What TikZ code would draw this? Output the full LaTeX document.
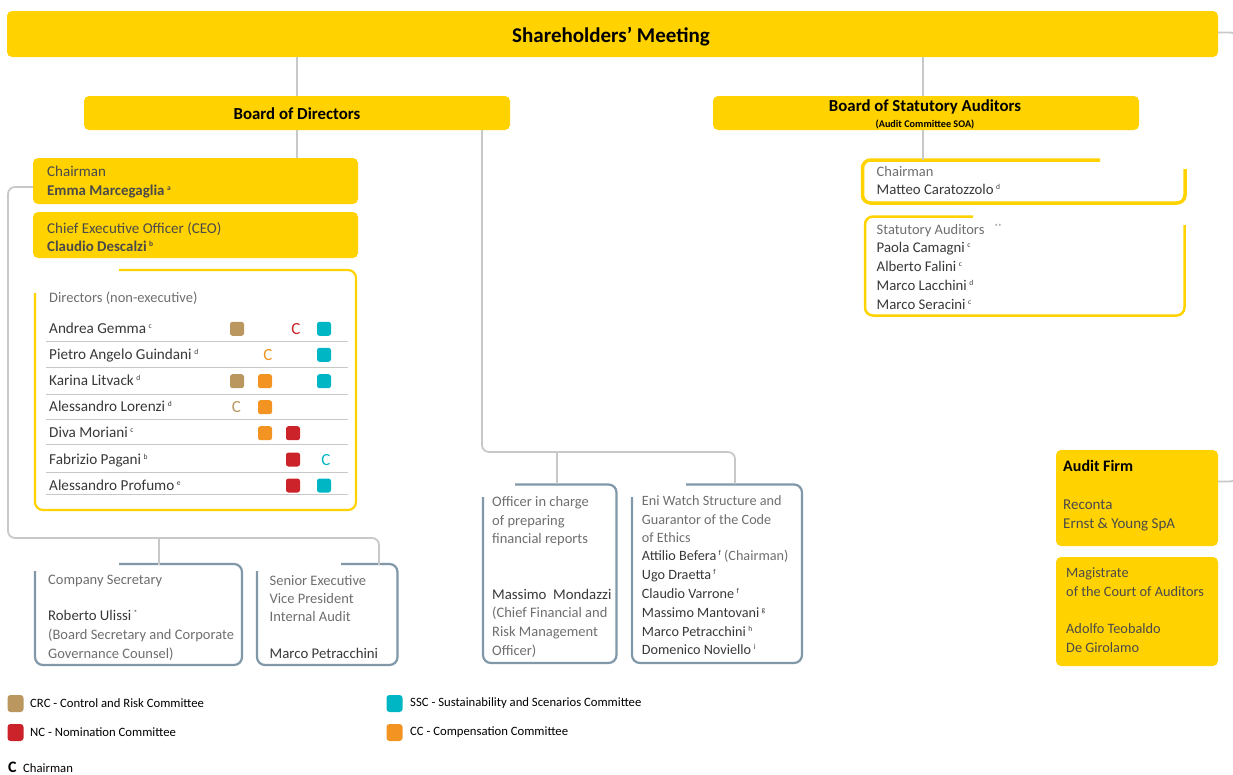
\documentclass[tikz,border=0pt]{standalone}
\usepackage{fontspec}
\setmainfont{Carlito}
\definecolor{eniY}{HTML}{FFD200}
\definecolor{connG}{HTML}{C8C8C8}
\definecolor{steelB}{HTML}{8098A8}
\definecolor{txtD}{HTML}{383838}
\definecolor{txtY}{HTML}{4A4A4A}
\definecolor{txtL}{HTML}{6E6E6E}
\definecolor{crcC}{HTML}{B9975F}
\definecolor{ccC}{HTML}{F39322}
\definecolor{ncC}{HTML}{CC2229}
\definecolor{sscC}{HTML}{00B6C5}
\newcommand{\supl}[1]{\,{\fontsize{7.5}{8}\selectfont\raisebox{5pt}{#1}}}
\begin{document}
\begin{tikzpicture}[x=1pt,y=-1pt,
 ybox/.style={fill=eniY, rounded corners=5pt, inner sep=0pt},
 conn/.style={draw=connG, line width=1.8pt, rounded corners=7pt},
 yout/.style={draw=eniY, line width=2.2pt, rounded corners=8pt},
 bout/.style={draw=steelB, line width=2.2pt, rounded corners=8pt},
 lbl/.style={anchor=base west, inner sep=0pt, text=txtL, font=\fontsize{14.5}{16}\selectfont},
 nm/.style={anchor=base west, inner sep=0pt, text=txtD, font=\fontsize{14.8}{16}\selectfont},
 dnm/.style={anchor=base west, inner sep=0pt, text=txtD, font=\fontsize{15.2}{16}\selectfont},
 ew/.style={anchor=base west, inner sep=0pt, text=#1, font=\fontsize{14.2}{16}\selectfont},
 nmb/.style={anchor=base west, inner sep=0pt, text=txtY, font=\fontsize{14.9}{16}\selectfont\bfseries},
 ylbl/.style={anchor=base west, inner sep=0pt, text=txtY, font=\fontsize{15}{16}\selectfont},
 sq/.style={fill=#1, rounded corners=2.5pt, minimum size=14pt, inner sep=0pt},
 lsq/.style={fill=#1, rounded corners=3pt, minimum width=16pt, minimum height=17pt, inner sep=0pt},
 cm/.style={text=#1, inner sep=0pt, font=\fontsize{17}{17}\selectfont},
 sepl/.style={draw=connG, line width=0.9pt},
 leg/.style={anchor=west, inner sep=0pt, text=black, font=\fontsize{12.7}{14}\selectfont},
 ttl/.style={text=black, font=\fontsize{16.8}{18}\selectfont\bfseries}
]
\useasboundingbox (0,0) rectangle (1233,774);

% ---------- top boxes
\node[ybox, minimum width=1211pt, minimum height=46pt] (sm) at (612.5,34) {};
\node[inner sep=0pt, text=black, font=\fontsize{21}{23}\selectfont\bfseries] (smt) at (611,36.5) {Shareholders' Meeting};
\node[ybox, minimum width=426pt, minimum height=34pt] (bod) at (297,113) {};
\node[ttl] (bodt) at (297,113.5) {Board of Directors};
\node[ybox, minimum width=426pt, minimum height=34pt] (bsa) at (926,113) {};
\node[ttl, inner sep=0pt] (bsat) at (925,107) {Board of Statutory Auditors};
\node[text=black, inner sep=0pt, font=\fontsize{10.2}{11}\selectfont\bfseries] (bsas) at (925,124) {(Audit Committee SOA)};

% ---------- chairman / CEO
\node[ybox, minimum width=325pt, minimum height=46pt] (chair) at (195.5,181) {};
\node[ylbl] (chairL) at (47,176.5) {Chairman};
\node[nmb] (chairN) at (47,195.7) {Emma Marcegaglia\supl{a}};
\node[ybox, minimum width=325pt, minimum height=46pt] (ceo) at (195.5,235) {};
\node[ylbl] (ceoL) at (47,233.3) {Chief Executive Officer (CEO)};
\node[nmb] (ceoN) at (47,251.7) {Claudio Descalzi\supl{b}};

% ---------- directors
\draw[yout] (119,270) -| (356,510) -| (35,293);
\node[lbl] (dirL) at (49,302.3) {Directors (non-executive)};
\foreach \yy in {341,367.7,394,419.3,444,472.3,494.3}
  \draw[sepl] (46,\yy) -- (348,\yy);
\node[dnm] (d1) at (49,333.3) {Andrea Gemma\supl{c}};
\node[dnm] (d2) at (49,359.3) {Pietro Angelo Guindani\supl{d}};
\node[dnm] (d3) at (49,385.7) {Karina Litvack\supl{d}};
\node[dnm] (d4) at (49,411.7) {Alessandro Lorenzi\supl{d}};
\node[dnm] (d5) at (49,437.7) {Diva Moriani\supl{c}};
\node[dnm] (d6) at (49,464) {Fabrizio Pagani\supl{b}};
\node[dnm] (d7) at (49,490) {Alessandro Profumo\supl{e}};
% row 1
\node[sq=crcC] (m11) at (237,328.8) {};
\node[cm=ncC] (m12) at (296,329) {C};
\node[sq=sscC] (m13) at (324,328.8) {};
% row 2
\node[cm=ccC] (m21) at (268,355) {C};
\node[sq=sscC] (m22) at (324,354.8) {};
% row 3
\node[sq=crcC] (m31) at (237,381.2) {};
\node[sq=ccC] (m32) at (265,381.2) {};
\node[sq=sscC] (m33) at (324,381.2) {};
% row 4
\node[cm=crcC] (m41) at (236.5,407.4) {C};
\node[sq=ccC] (m42) at (265,407.2) {};
% row 5
\node[sq=ccC] (m51) at (265,433.2) {};
\node[sq=ncC] (m52) at (293,433.2) {};
% row 6
\node[sq=ncC] (m61) at (293,459.5) {};
\node[cm=sscC] (m62) at (326,459.7) {C};
% row 7
\node[sq=ncC] (m71) at (293,485.5) {};
\node[sq=sscC] (m72) at (324,485.5) {};

% ---------- lower left boxes
\draw[bout] (119,564) -| (242,665) -| (35,571);
\node[lbl] (csL) at (48,584) {Company Secretary};
\node[nm] (csN) at (48,620.7) {Roberto Ulissi\supl{*}};
\node[lbl] (csR1) at (48,639.3) {(Board Secretary and Corporate};
\node[lbl] (csR2) at (48,658.3) {Governance Counsel)};
\draw[bout] (341,564) -| (397.5,665) -| (257,571);
\node[lbl] (ia1) at (269.5,585.3) {Senior Executive};
\node[lbl] (ia2) at (269.5,603.3) {Vice President};
\node[lbl] (ia3) at (269.5,621.7) {Internal Audit};
\node[nm] (iaN) at (269.5,658) {Marco Petracchini};

% ---------- lower middle boxes
\draw[bout] (515,484.5) -| (616.5,663) -| (483,497);
\node[lbl] (of1) at (492,506.7) {Officer in charge};
\node[lbl] (of2) at (492,525.7) {of preparing};
\node[lbl] (of3) at (492,543.3) {financial reports};
\node[nm] (ofN) at (492,599) {Massimo\ \ Mondazzi};
\node[lbl] (of4) at (492,617.7) {(Chief Financial and};
\node[lbl] (of5) at (492,636.7) {Risk Management};
\node[lbl] (of6) at (492,655) {Officer)};
\draw[bout] (686,484.5) -| (802,663) -| (632,497);
\node[ew=txtL] (ew1) at (641.7,505.3) {Eni Watch Structure and};
\node[ew=txtL] (ew2) at (641.7,524) {Guarantor of the Code};
\node[ew=txtL] (ew3) at (641.7,542) {of Ethics};
\node[ew=txtD] (ew4) at (641.7,560.7) {Attilio Befera\supl{f} {\color{txtL}(Chairman)}};
\node[ew=txtD] (ew5) at (641.7,579.3) {Ugo Draetta\supl{f}};
\node[ew=txtD] (ew6) at (641.7,598) {Claudio Varrone\supl{f}};
\node[ew=txtD] (ew7) at (641.7,617.3) {Massimo Mantovani\supl{g}};
\node[ew=txtD] (ew8) at (641.7,636) {Marco Petracchini\supl{h}};
\node[ew=txtD] (ew9) at (641.7,654.7) {Domenico Noviello\supl{i}};

% ---------- statutory auditors side
\draw[yout, line width=3.5pt] (1185,169) |- (862.5,203) |- (1100,160);
\node[lbl] (scL) at (876.5,176) {Chairman};
\node[nm] (scN) at (876.5,194.3) {Matteo Caratozzolo\supl{d}};
\draw[yout, line width=2.5pt] (1184.5,225) |- (865,315.5) |- (973,216.5);
\node[lbl] (saL) at (876.5,234.3) {Statutory Auditors};
\node[inner sep=0pt, text=txtL, font=\fontsize{7.5}{8}\selectfont] (saS) at (998,227) {**};
\node[nm] (sa1) at (876.5,252.3) {Paola Camagni\supl{c}};
\node[nm] (sa2) at (876.5,271.3) {Alberto Falini\supl{c}};
\node[nm] (sa3) at (876.5,290) {Marco Lacchini\supl{d}};
\node[nm] (sa4) at (876.5,309) {Marco Seracini\supl{c}};

\node[ybox, minimum width=162pt, minimum height=96pt] (af) at (1137,498) {};
\node[anchor=base west, inner sep=0pt, text=black, font=\fontsize{16}{17}\selectfont\bfseries] (afT) at (1063,471.7) {Audit Firm};
\node[ylbl] (af1) at (1063,509) {Reconta};
\node[ylbl] (af2) at (1063,528.3) {Ernst \& Young SpA};
\node[ybox, minimum width=162pt, minimum height=109pt] (mg) at (1137,611.5) {};
\node[ylbl, font=\fontsize{14.3}{16}\selectfont] (mg1) at (1066,577.3) {Magistrate};
\node[ylbl, font=\fontsize{14.3}{16}\selectfont] (mg2) at (1066,596) {of the Court of Auditors};
\node[ylbl, font=\fontsize{14.3}{16}\selectfont] (mg3) at (1066,633.3) {Adolfo Teobaldo};
\node[ylbl, font=\fontsize{14.3}{16}\selectfont] (mg4) at (1066,652.3) {De Girolamo};

% ---------- connectors
\coordinate (rch) at (923,160);
\coordinate (chairW) at (33,187);
\coordinate (csTop) at (159,565);
\coordinate (iaTop) at (379,565);
\coordinate (bodR) at (482,130);
\coordinate (ofTop) at (557,484);
\coordinate (ewTop) at (735,484);
\coordinate (afE) at (1218,481.5);
\coordinate (smE) at (1218,32.5);
\draw[conn] (sm.south -| bod.north) -- (bod.north);
\draw[conn] (rch |- sm.south) -- (rch |- bsa.north);
\draw[conn] (rch |- bsa.south) -- (rch);
\draw[conn] (bod.south) -- (bod.south |- chair.north);
\draw[conn] (chairW) -- (8,187) -- (8,538) -- (iaTop |- 0,538) -- (iaTop);
\draw[conn] (csTop |- 0,538) -- (csTop);
\draw[conn] (bodR) -- (bodR |- 0,452) -- (ewTop |- 0,452) -- (ewTop);
\draw[conn] (ofTop |- 0,452) -- (ofTop);
\draw[conn] (smE) -- (1237,32.5) -- (1237,481.5) -- (afE);

% ---------- legend
\node[lsq=crcC] (lcrc) at (15.5,703.5) {};
\node[leg] (lcrcT) at (30,703.5) {CRC - Control and Risk Committee};
\node[lsq=ncC] (lnc) at (15.5,732.5) {};
\node[leg] (lncT) at (30,732.5) {NC - Nomination Committee};
\node[lsq=sscC] (lssc) at (394.5,703.5) {};
\node[leg] (lsscT) at (410,703.5) {SSC - Sustainability and Scenarios Committee};
\node[lsq=ccC] (lcc) at (394.5,732.5) {};
\node[leg] (lccT) at (410,732.5) {CC - Compensation Committee};
\node[anchor=base west, inner sep=0pt, text=black, font=\fontsize{16}{16}\selectfont\bfseries] (lC) at (8,772) {C};
\node[leg, anchor=base west] (lCT) at (23,772) {Chairman};
\end{tikzpicture}
\end{document}
